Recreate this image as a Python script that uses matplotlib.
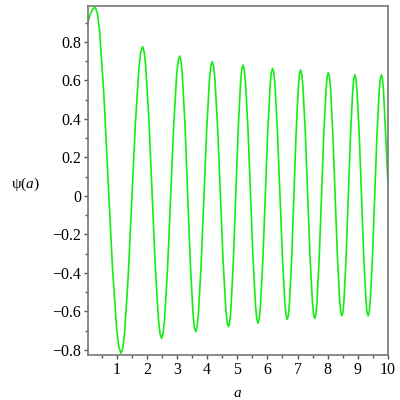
import matplotlib
matplotlib.use("Agg")
import matplotlib.pyplot as plt
from matplotlib.ticker import MultipleLocator

# values (a, psi(a))
a_vals = [0.05, 0.12, 0.19, 0.24, 0.29,
          0.361, 0.433, 0.575, 0.718, 0.86, 1.003, 1.074, 1.145,
          1.205, 1.264, 1.383, 1.503, 1.622, 1.741, 1.80, 1.86,
          1.913, 1.965, 2.07, 2.175, 2.28, 2.385, 2.438, 2.49,
          2.54, 2.59, 2.69, 2.79, 2.89, 2.99, 3.04, 3.09,
          3.134, 3.178, 3.267, 3.355, 3.443, 3.532, 3.576, 3.62,
          3.666, 3.712, 3.803, 3.895, 3.987, 4.078, 4.124, 4.17,
          4.215, 4.26, 4.35, 4.44, 4.53, 4.62, 4.665, 4.71,
          4.75, 4.79, 4.87, 4.95, 5.03, 5.11, 5.15, 5.19,
          5.232, 5.273, 5.357, 5.44, 5.523, 5.607, 5.648, 5.69,
          5.73, 5.77, 5.85, 5.93, 6.01, 6.09, 6.13, 6.17,
          6.211, 6.252, 6.333, 6.415, 6.497, 6.578, 6.619, 6.66,
          6.697, 6.733, 6.807, 6.88, 6.953, 7.027, 7.063, 7.10,
          7.139, 7.178, 7.257, 7.335, 7.413, 7.492, 7.531, 7.57,
          7.608, 7.645, 7.72, 7.795, 7.87, 7.945, 7.983, 8.02,
          8.058, 8.095, 8.17, 8.245, 8.32, 8.395, 8.433, 8.47,
          8.506, 8.542, 8.613, 8.685, 8.757, 8.828, 8.864, 8.90,
          8.937, 8.973, 9.047, 9.12, 9.193, 9.267, 9.303, 9.34,
          9.377, 9.413, 9.487, 9.56, 9.633, 9.707, 9.743, 9.78,
          9.816, 9.852, 9.923, 10.0]

psi_vals = [0.905, 0.940, 0.967, 0.976, 0.980,
            0.950, 0.860, 0.531, 0.082, -0.368, -0.697, -0.786, -0.817,
            -0.790, -0.710, -0.419, -0.021, 0.378, 0.669, 0.749, 0.776,
            0.750, 0.674, 0.397, 0.018, -0.361, -0.638, -0.714, -0.740,
            -0.715, -0.642, -0.373, -0.007, 0.360, 0.629, 0.702, 0.727,
            0.703, 0.631, 0.369, 0.011, -0.347, -0.609, -0.681, -0.705,
            -0.681, -0.611, -0.354, -0.004, 0.347, 0.604, 0.674, 0.698,
            0.675, 0.606, 0.354, 0.010, -0.335, -0.587, -0.656, -0.679,
            -0.656, -0.588, -0.339, 0.000, 0.340, 0.589, 0.657, 0.680,
            0.657, 0.590, 0.345, 0.010, -0.326, -0.571, -0.638, -0.661,
            -0.638, -0.572, -0.330, 0.001, 0.332, 0.574, 0.640, 0.663,
            0.641, 0.576, 0.337, 0.011, -0.315, -0.554, -0.619, -0.641,
            -0.619, -0.554, -0.317, 0.007, 0.331, 0.568, 0.633, 0.655,
            0.633, 0.569, 0.332, 0.010, -0.313, -0.550, -0.614, -0.636,
            -0.614, -0.550, -0.317, 0.003, 0.322, 0.555, 0.619, 0.641,
            0.620, 0.556, 0.325, 0.009, -0.307, -0.538, -0.602, -0.623,
            -0.602, -0.539, -0.310, 0.003, 0.316, 0.545, 0.608, 0.629,
            0.608, 0.545, 0.316, 0.003, -0.310, -0.539, -0.602, -0.623,
            -0.602, -0.539, -0.310, 0.003, 0.316, 0.545, 0.608, 0.629,
            0.608, 0.545, 0.310, 0.060]

x_ticks = [1, 2, 3, 4, 5, 6, 7, 8, 9, 10]
y_ticks = [-0.8, -0.6, -0.4, -0.2, 0, 0.2, 0.4, 0.6, 0.8]
y_ticklabels = ['−0.8', '−0.6', '−0.4', '−0.2', '0', '0.2', '0.4', '0.6', '0.8']

plt.rcParams['font.family'] = ['Liberation Serif', 'DejaVu Serif']
plt.rcParams['mathtext.fontset'] = 'custom'
plt.rcParams['mathtext.rm'] = 'Liberation Serif'
plt.rcParams['mathtext.it'] = 'Liberation Serif:italic'

fig = plt.figure(figsize=(4, 4), dpi=100)
ax = fig.add_axes([0.22, 0.1125, 0.75, 0.8725])

ax.plot(a_vals, psi_vals, color='#12ee12', lw=1.2)

ax.set_xlim(0.05, 10.0)
ax.set_ylim(-0.826, 0.987)

ax.set_xticks(x_ticks)
ax.set_yticks(y_ticks)
ax.set_yticklabels(y_ticklabels)
ax.xaxis.set_minor_locator(MultipleLocator(0.5))
ax.yaxis.set_minor_locator(MultipleLocator(0.1))

ax.tick_params(which='both', direction='out', color='#555555', labelsize=11.5, pad=2)
ax.tick_params(which='major', length=3, width=1)
ax.tick_params(which='minor', length=2, width=1)

for s in ax.spines.values():
    s.set_color('#777777')
    s.set_linewidth(1.2)

ax.set_xlabel(r'$a$', fontsize=11)
ax.xaxis.set_label_coords(0.5, -0.091)
ax.set_ylabel(r'$\mathrm{ψ}(a)$', fontsize=11, rotation=0, ha='center', va='center')
ax.yaxis.set_label_coords(-0.21, 0.49)

fig.savefig('out.png', dpi=100)
